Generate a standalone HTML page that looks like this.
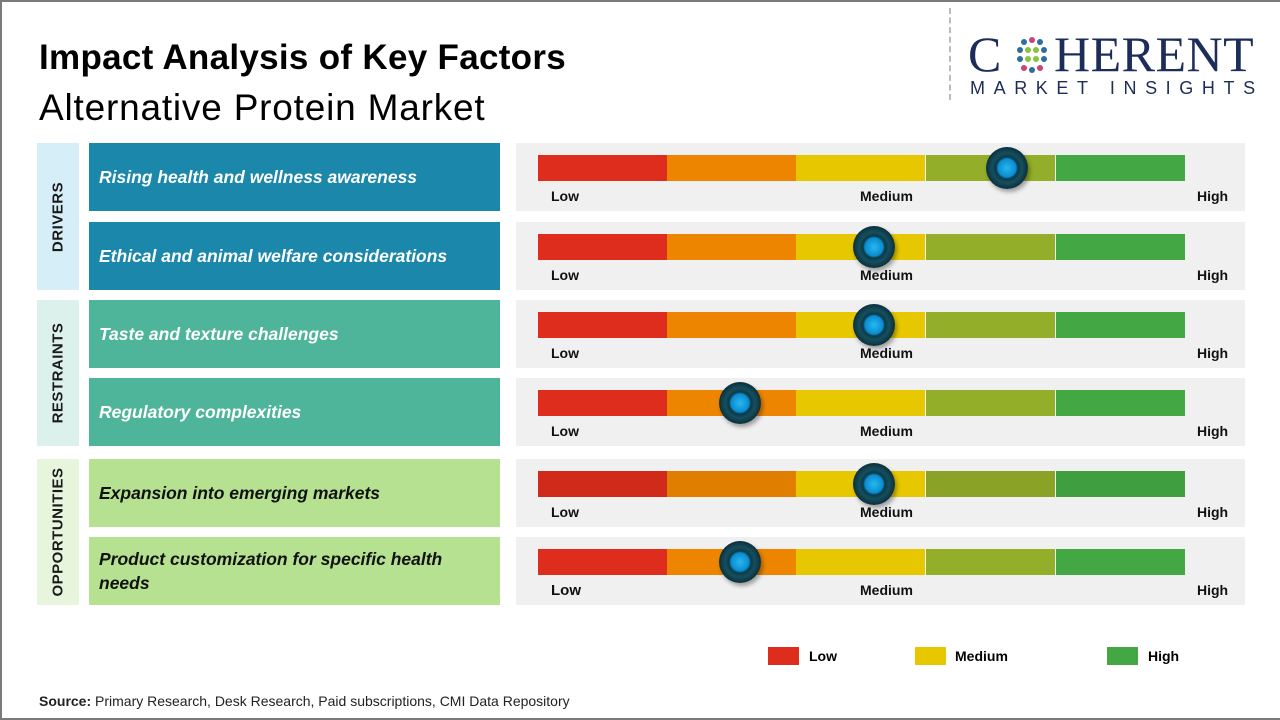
<!DOCTYPE html>
<html><head><meta charset="utf-8"><style>
*{margin:0;padding:0;box-sizing:border-box}
body{width:1280px;height:720px;position:relative;background:#fff;font-family:"Liberation Sans",sans-serif;overflow:hidden}
.frame{position:absolute;left:0;top:0;width:1280px;height:720px;border:2px solid #7a7a7a;border-right:none}
.a{position:absolute}
.cat{position:absolute;left:37px;width:42px}
.cat span{position:absolute;left:50%;top:50%;transform:translate(-50%,-50%) rotate(-90deg);font-weight:bold;font-size:15px;color:#1a1a1a;white-space:nowrap;letter-spacing:0.5px}
.lab{position:absolute;left:89px;width:411px;height:68px;display:flex;align-items:center;padding-left:10px;font-style:italic;font-weight:bold;font-size:17.5px;line-height:24px}
.pan{position:absolute;left:516px;width:729px;height:68px;background:#f0f0f0}
.seg{position:absolute;top:12px;height:26px;width:129px}
.t{position:absolute;top:45px;font-size:14px;font-weight:bold;color:#111}
.knob{position:absolute;width:42px;height:42px;border-radius:50%;top:4px;background:radial-gradient(circle at 50% 50%,#28b8f0 0,#0a8cd0 9px,#0b3a48 11px,#154f5e 15px,#0d2f3a 21px);box-shadow:2px 3px 4px rgba(0,0,0,.35)}
</style></head><body>
<div class="frame"></div>
<div class="a" style="left:39px;top:38px;font-size:35px;font-weight:bold;color:#000;letter-spacing:0.3px">Impact Analysis of Key Factors</div>
<div class="a" style="left:39px;top:87px;font-size:37px;color:#000;letter-spacing:0.8px">Alternative Protein Market</div>
<div class="a" style="left:949px;top:8px;height:92px;border-left:2px dashed #bbb"></div>
<div class="a" style="left:968px;top:28px;font-family:'Liberation Serif',serif;font-size:50px;color:#1d2d5a;line-height:52px">C</div>
<div class="a" style="left:1054px;top:28px;font-family:'Liberation Serif',serif;font-size:50px;color:#1d2d5a;line-height:52px;letter-spacing:0.5px">HERENT</div>
<svg class="a" style="left:1010px;top:34px" width="44" height="44"><g>
<circle cx="22" cy="6" r="3" fill="#d0407a"/><circle cx="14" cy="8" r="3" fill="#2e6e9e"/><circle cx="30" cy="8" r="3" fill="#2e6e9e"/>
<circle cx="10" cy="16" r="3" fill="#2e6e9e"/><circle cx="18" cy="16" r="3" fill="#8ac43f"/><circle cx="26" cy="16" r="3" fill="#8ac43f"/><circle cx="34" cy="16" r="3" fill="#2e6e9e"/>
<circle cx="10" cy="25" r="3" fill="#2e6e9e"/><circle cx="18" cy="25" r="3" fill="#8ac43f"/><circle cx="26" cy="25" r="3" fill="#8ac43f"/><circle cx="34" cy="25" r="3" fill="#2e6e9e"/>
<circle cx="14" cy="34" r="3" fill="#d0407a"/><circle cx="22" cy="36" r="3" fill="#2e6e9e"/><circle cx="30" cy="34" r="3" fill="#d0407a"/></g></svg>
<div class="a" style="left:970px;top:78px;font-size:18px;color:#1d2d5a;letter-spacing:8.6px">MARKET INSIGHTS</div>

<div class="cat" style="top:143px;height:147px;background:#d6eef8"><span>DRIVERS</span></div>
<div class="cat" style="top:300px;height:146px;background:#dcf1ec"><span>RESTRAINTS</span></div>
<div class="cat" style="top:459px;height:146px;background:#e7f5dc"><span>OPPORTUNITIES</span></div>

<div class="lab" style="top:143px;background:#1a87ab;color:#fff">Rising health and wellness awareness</div>
<div class="lab" style="top:222px;background:#1a87ab;color:#fff">Ethical and animal welfare considerations</div>
<div class="lab" style="top:300px;background:#4fb59a;color:#fff">Taste and texture challenges</div>
<div class="lab" style="top:378px;background:#4fb59a;color:#fff">Regulatory complexities</div>
<div class="lab" style="top:459px;background:#b5e190;color:#111">Expansion into emerging markets</div>
<div class="lab" style="top:537px;background:#b5e190;color:#111">Product customization for specific health<br>needs</div>

<div class="pan" style="top:143px"><div class="seg" style="left:22px;background:#de2d1c"></div><div class="seg" style="left:151px;background:#ee8500"></div><div class="seg" style="left:280px;background:#e7c800"></div><div class="seg" style="left:410px;background:#93ae28"></div><div class="seg" style="left:540px;background:#43a843"></div><span class="t" style="left:35px">Low</span><span class="t" style="left:344px">Medium</span><span class="t" style="left:681px">High</span><div class="knob" style="left:470px"></div></div>
<div class="pan" style="top:222px"><div class="seg" style="left:22px;background:#de2d1c"></div><div class="seg" style="left:151px;background:#ee8500"></div><div class="seg" style="left:280px;background:#e7c800"></div><div class="seg" style="left:410px;background:#93ae28"></div><div class="seg" style="left:540px;background:#43a843"></div><span class="t" style="left:35px">Low</span><span class="t" style="left:344px">Medium</span><span class="t" style="left:681px">High</span><div class="knob" style="left:337px"></div></div>
<div class="pan" style="top:300px"><div class="seg" style="left:22px;background:#de2d1c"></div><div class="seg" style="left:151px;background:#ee8500"></div><div class="seg" style="left:280px;background:#e7c800"></div><div class="seg" style="left:410px;background:#93ae28"></div><div class="seg" style="left:540px;background:#43a843"></div><span class="t" style="left:35px">Low</span><span class="t" style="left:344px">Medium</span><span class="t" style="left:681px">High</span><div class="knob" style="left:337px"></div></div>
<div class="pan" style="top:378px"><div class="seg" style="left:22px;background:#de2d1c"></div><div class="seg" style="left:151px;background:#ee8500"></div><div class="seg" style="left:280px;background:#e7c800"></div><div class="seg" style="left:410px;background:#93ae28"></div><div class="seg" style="left:540px;background:#43a843"></div><span class="t" style="left:35px">Low</span><span class="t" style="left:344px">Medium</span><span class="t" style="left:681px">High</span><div class="knob" style="left:203px"></div></div>
<div class="pan" style="top:459px"><div class="seg" style="left:22px;background:#d02a1a"></div><div class="seg" style="left:151px;background:#e07e00"></div><div class="seg" style="left:280px;background:#e7c800"></div><div class="seg" style="left:410px;background:#8aa326"></div><div class="seg" style="left:540px;background:#3f9e3f"></div><span class="t" style="left:35px">Low</span><span class="t" style="left:344px">Medium</span><span class="t" style="left:681px">High</span><div class="knob" style="left:337px"></div></div>
<div class="pan" style="top:537px"><div class="seg" style="left:22px;background:#de2d1c"></div><div class="seg" style="left:151px;background:#ee8500"></div><div class="seg" style="left:280px;background:#e7c800"></div><div class="seg" style="left:410px;background:#93ae28"></div><div class="seg" style="left:540px;background:#43a843"></div><span class="t" style="left:35px;font-size:15px">Low</span><span class="t" style="left:344px">Medium</span><span class="t" style="left:681px">High</span><div class="knob" style="left:203px"></div></div>

<div class="a" style="left:768px;top:647px;width:31px;height:18px;background:#de2d1c"></div>
<div class="a" style="left:809px;top:648px;font-size:14px;font-weight:bold">Low</div>
<div class="a" style="left:915px;top:647px;width:31px;height:18px;background:#e7c800"></div>
<div class="a" style="left:955px;top:648px;font-size:14px;font-weight:bold">Medium</div>
<div class="a" style="left:1107px;top:647px;width:31px;height:18px;background:#43a843"></div>
<div class="a" style="left:1148px;top:648px;font-size:14px;font-weight:bold">High</div>

<div class="a" style="left:39px;top:693px;font-size:14px;color:#222"><b>Source:</b> Primary Research, Desk Research, Paid subscriptions, CMI Data Repository</div>
</body></html>
